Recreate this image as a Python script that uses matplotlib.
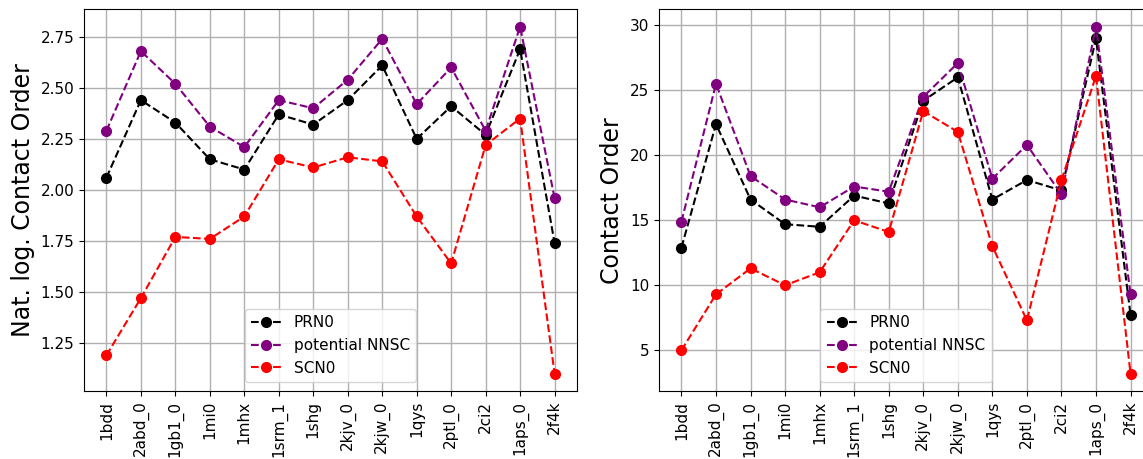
import matplotlib
matplotlib.use("Agg")
from matplotlib import pyplot as plt

# protein ids shown along the x axis
proteins = ["1bdd", "2abd_0", "1gb1_0", "1mi0", "1mhx", "1srm_1", "1shg",
            "2kjv_0", "2kjw_0", "1qys", "2ptl_0", "2ci2", "1aps_0", "2f4k"]

# natural log of the contact order
log_prn0 = [2.06, 2.44, 2.33, 2.15, 2.10, 2.37, 2.32, 2.44, 2.61, 2.25, 2.41, 2.27, 2.69, 1.74]
log_nnsc = [2.29, 2.68, 2.52, 2.31, 2.21, 2.44, 2.40, 2.54, 2.74, 2.42, 2.60, 2.29, 2.80, 1.96]
log_scn0 = [1.19, 1.47, 1.77, 1.76, 1.87, 2.15, 2.11, 2.16, 2.14, 1.87, 1.64, 2.22, 2.35, 1.10]

# raw contact order
co_prn0 = [12.9, 22.4, 16.6, 14.7, 14.5, 16.9, 16.3, 24.2, 26.0, 16.6, 18.1, 17.3, 29.0, 7.7]
co_nnsc = [14.9, 25.5, 18.4, 16.6, 16.0, 17.6, 17.2, 24.5, 27.1, 18.2, 20.8, 17.0, 29.9, 9.3]
co_scn0 = [5.0, 9.3, 11.3, 10.0, 11.0, 15.0, 14.1, 23.4, 21.8, 13.0, 7.3, 18.1, 26.1, 3.2]

W, H = 1143, 459
fig = plt.figure(figsize=(W / 100, H / 100), dpi=100)
ax1 = fig.add_axes([84 / W, 1 - 391 / H, 493 / W, 381.7 / H])
ax2 = fig.add_axes([659 / W, 1 - 391 / H, 494 / W, 381.7 / H])


def draw(ax, prn0, nnsc, scn0, ylabel):
    x = range(len(proteins))
    ax.plot(x, prn0, "o--", color="black", label="PRN0", markersize=7, linewidth=1.5)
    ax.plot(x, nnsc, "o--", color="purple", label="potential NNSC", markersize=7, linewidth=1.5)
    ax.plot(x, scn0, "o--", color="red", label="SCN0", markersize=7, linewidth=1.5)
    ax.set_xticks(list(x))
    ax.set_xticklabels(proteins, rotation=90, fontsize=11)
    ax.tick_params(axis="y", labelsize=11)
    ax.set_ylabel(ylabel, fontsize=17)
    ax.grid(True, color="#b0b0b0", linewidth=1)
    ax.set_axisbelow(True)
    ax.legend(loc="lower center", fontsize=11, borderaxespad=0.6)


draw(ax1, log_prn0, log_nnsc, log_scn0, "Nat. log. Contact Order")
draw(ax2, co_prn0, co_nnsc, co_scn0, "Contact Order")

plt.savefig("out.png", dpi=100)
plt.close()
